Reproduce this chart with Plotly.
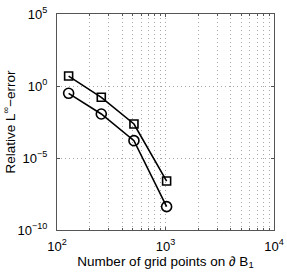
import plotly.graph_objects as go

grid_points = [128, 256, 512, 1024]
err_square = [4.9, 0.164, 2.3e-3, 2.5e-7]
err_circle = [0.31, 0.0114, 1.6e-4, 4.2e-9]

x_tickvals = [1e2, 1e3, 1e4]
x_ticktext = ["10<sup>2</sup>", "10<sup>3</sup>", "10<sup>4</sup>"]
y_tickvals = [1e-10, 1e-5, 1e0, 1e5]
y_ticktext = ["10<sup>−10</sup>", "10<sup>−5</sup>", "10<sup>0</sup>", "10<sup>5</sup>"]
x_minor = [m * 10**d for d in (2, 3) for m in range(2, 10)]

FONT = "Liberation Sans, Arial"
GRID = "#a8a8a8"
DASH = "1px,3px"

fig = go.Figure()
fig.add_trace(go.Scatter(x=grid_points, y=err_square, mode="lines+markers",
                         line=dict(color="black", width=1.6),
                         marker=dict(symbol="square-open", size=8, color="black",
                                     line=dict(width=1.6, color="black")),
                         showlegend=False))
fig.add_trace(go.Scatter(x=grid_points, y=err_circle, mode="lines+markers",
                         line=dict(color="black", width=1.6),
                         marker=dict(symbol="circle-open", size=10, color="black",
                                     line=dict(width=1.6, color="black")),
                         showlegend=False))

axis_common = dict(showline=True, mirror="ticks", linecolor="#555", linewidth=1,
                   ticks="inside", ticklen=3, tickcolor="#555",
                   showgrid=True, gridcolor=GRID, gridwidth=1, griddash=DASH,
                   zeroline=False, automargin=False,
                   tickfont=dict(family=FONT, size=13, color="black"))

fig.update_xaxes(type="log", range=[2, 4], tickvals=x_tickvals, ticktext=x_ticktext,
                 ticklabelstandoff=4,
                 minor=dict(tickvals=x_minor, showgrid=True, gridcolor=GRID,
                            griddash=DASH, ticks="inside", ticklen=2, tickcolor="#555"),
                 title=dict(text="Number of grid points on ∂ B<sub>1</sub>",
                            font=dict(family=FONT, size=13.5, color="black"),
                            standoff=2),
                 **axis_common)
fig.update_yaxes(type="log", range=[-10, 5], tickvals=y_tickvals, ticktext=y_ticktext,
                 ticklabelstandoff=6,
                 title=dict(text="Relative L<sup>∞</sup>−error",
                            font=dict(family=FONT, size=13.5, color="black"),
                            standoff=2),
                 **axis_common)

fig.update_layout(width=287, height=273, margin=dict(l=57, r=13, t=14, b=43),
                  plot_bgcolor="white", paper_bgcolor="white")
fig.write_html("out.html", config={"displayModeBar": False},
               post_script="document.body.style.margin='0';document.body.style.overflow='hidden';")
